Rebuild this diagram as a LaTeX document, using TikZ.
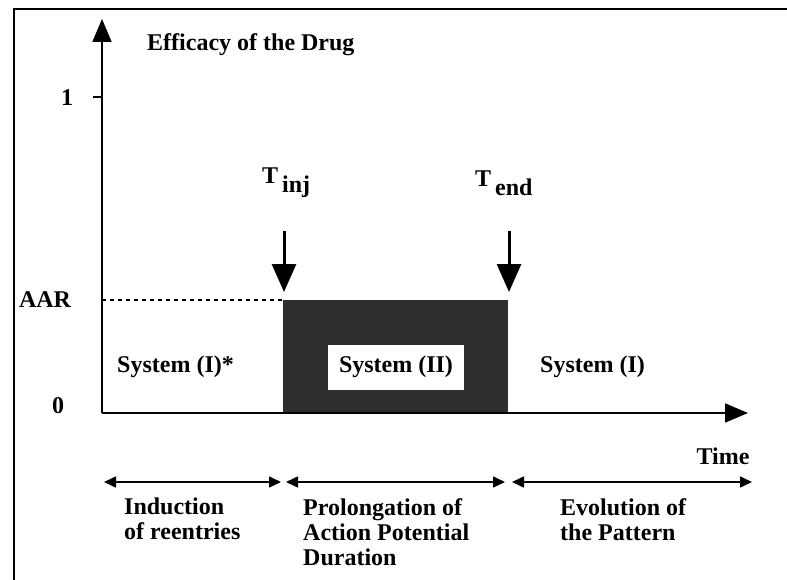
\documentclass[tikz,border=0pt]{standalone}
\usepackage{fontspec}
\setmainfont{Liberation Serif}
\usetikzlibrary{arrows.meta}
\tikzset{
  lbl/.style={font=\fontsize{24}{25}\selectfont\bfseries, inner sep=0pt},
  axis/.style={line width=1.8pt, -{Triangle[length=23pt,width=19pt]}},
  inarrow/.style={line width=3pt, -{Triangle[length=28pt,width=24pt]}},
  span/.style={line width=1.6pt, {Triangle[length=12pt,width=11pt]}-{Triangle[length=12pt,width=11pt]}},
  frameline/.style={line width=1.4pt},
}
\begin{document}
\begin{tikzpicture}[x=1pt,y=-1pt]
\useasboundingbox (0,0) rectangle (787,580);
% frame (top and left)
\coordinate (fbl) at (14,580);
\coordinate (ftl) at (14,9);
\coordinate (ftr) at (787,9);
\draw[frameline] (fbl) -- (ftl) -- (ftr);
% dark region
\fill[black!82] (283,300) rectangle (508,413);
\node[fill=white, minimum width=136pt, minimum height=45pt, inner sep=0pt] (sys2box) at (396,367.5) {};
\node[lbl] (sys2) at (396,367) {System (II)};
% axes
\coordinate (O) at (102,413);
\coordinate (ytop) at (102,19);
\coordinate (xend) at (748,413);
\draw[axis] (O) -- (ytop);
\draw[axis] (O) -- (xend);
% tick at 1
\coordinate (t1a) at (93,97);
\coordinate (t1b) at (102,97);
\draw[line width=1.8pt] (t1a) -- (t1b);
% dashed AAR line
\coordinate (aarL) at (102,300);
\coordinate (aarR) at (283,300);
\draw[line width=1.1pt, dash pattern=on 4pt off 4pt] (aarL) -- (aarR);
% labels
\node[lbl, anchor=west] (eff) at (147,45) {Efficacy of the Drug};
\node[lbl] (one) at (67,98) {1};
\node[lbl] (aar) at (45,300) {AAR};
\node[lbl] (zero) at (58,406) {0};
\node[lbl, anchor=west] (sys1s) at (117,367) {System (I)*};
\node[lbl, anchor=west] (sys1) at (540,367) {System (I)};
\node[lbl] (time) at (723,456) {Time};
% T labels
\node[lbl, anchor=west] (tinj) at (262,183) {T\,\raisebox{-9pt}{inj}};
\node[lbl, anchor=west] (tend) at (475,183) {T\,\raisebox{-9pt}{end}};
% injection arrows
\coordinate (a1s) at (284,231);
\coordinate (a1e) at (284,292);
\coordinate (a2s) at (509,231);
\coordinate (a2e) at (509,292);
\draw[inarrow] (a1s) -- (a1e);
\draw[inarrow] (a2s) -- (a2e);
% bottom spans
\coordinate (b1) at (104,482);
\coordinate (b2) at (281,482);
\coordinate (b3) at (286,482);
\coordinate (b4) at (505,482);
\coordinate (b5) at (512,482);
\coordinate (b6) at (752,482);
\draw[span] (b1) -- (b2);
\draw[span] (b3) -- (b4);
\draw[span] (b5) -- (b6);
\node[lbl, anchor=north west, align=left] (ph1) at (124,498) {Induction\\of reentries};
\node[lbl, anchor=north west, align=left] (ph2) at (303,498) {Prolongation of\\Action Potential\\Duration};
\node[lbl, anchor=north west, align=left] (ph3) at (560,498) {Evolution of\\the Pattern};
\end{tikzpicture}
\end{document}
